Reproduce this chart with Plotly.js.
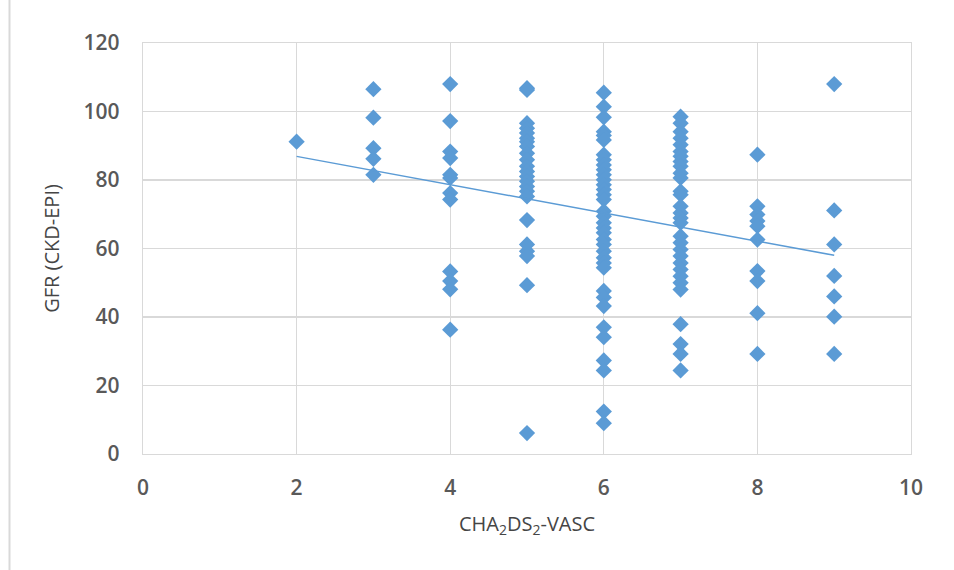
<!DOCTYPE html>
<html>
<head>
<meta charset="utf-8">
<script src="https://cdn.plot.ly/plotly-3.0.1.min.js"></script>
<style>
html,body{margin:0;padding:0;background:#fff;}
#chart{width:954px;height:570px;}
</style>
</head>
<body>
<div id="chart"></div>
<script>
// CHA2DS2-VASc score groups and the GFR values read for each
const scores = [2, 3, 4, 5, 6, 7, 8, 9];
const gfrScore2 = [91.2];
const gfrScore3 = [106.5, 98.2, 89.3, 86.2, 81.5];
const gfrScore4 = [108.0, 97.2, 88.3, 86.4, 81.5, 80.6, 76.2, 74.3, 53.3, 50.5, 48.1, 36.3];
const gfrScore5 = [106.8, 106.3, 96.6, 95.1, 93.7, 92.2, 91.2, 89.8, 87.8, 85.9, 84.0, 82.5, 81.0, 79.6, 78.1, 76.7, 75.2, 68.3, 61.2, 59.2, 57.8, 49.3, 6.1];
const gfrScore6 = [105.5, 101.4, 98.3, 94.1, 93.0, 91.7, 87.4, 85.9, 84.4, 83.0, 81.5, 80.1, 78.6, 77.2, 75.7, 74.3, 70.9, 69.4, 67.5, 66.0, 64.6, 62.6, 61.2, 59.2, 57.3, 55.8, 54.4, 47.6, 45.7, 43.2, 37.0, 34.1, 27.3, 24.4, 12.4, 9.0];
const gfrScore7 = [98.5, 96.6, 94.1, 92.2, 90.3, 88.3, 86.9, 85.4, 84.0, 82.0, 80.6, 76.7, 75.7, 72.3, 70.4, 68.9, 67.5, 63.6, 61.7, 59.7, 57.8, 55.8, 53.9, 51.9, 50.0, 48.0, 37.9, 32.1, 29.2, 24.4];
const gfrScore8 = [87.4, 72.3, 69.9, 68.0, 66.5, 62.6, 53.4, 50.5, 41.1, 29.2];
const gfrScore9 = [108.0, 71.1, 61.2, 52.0, 46.0, 40.1, 29.2];
// linear trendline end points
const trendScore = [2, 9];
const trendGfr = [86.9, 58.0];
const xTickVals = [0, 2, 4, 6, 8, 10];
const yTickVals = [0, 20, 40, 60, 80, 100, 120];

const groups = [gfrScore2, gfrScore3, gfrScore4, gfrScore5, gfrScore6, gfrScore7, gfrScore8, gfrScore9];
const xs = [], ys = [];
groups.forEach((g, i) => g.forEach(v => { xs.push(scores[i]); ys.push(v); }));

const blue = '#5B9BD5';
const grid = '#d9d9d9';
const fontFam = '"Open Sans", "Liberation Sans", sans-serif';

const data = [
  {x: xs, y: ys, type: 'scatter', mode: 'markers',
   marker: {symbol: 'diamond', size: 12.5, color: blue, line: {width: 0}}, hoverinfo: 'x+y'},
  {x: trendScore, y: trendGfr, type: 'scatter', mode: 'lines',
   line: {color: blue, width: 1.5}, hoverinfo: 'skip'}
];

const layout = {
  width: 954, height: 570,
  margin: {l: 143, r: 43, t: 43, b: 116},
  paper_bgcolor: '#ffffff', plot_bgcolor: '#ffffff',
  showlegend: false,
  font: {family: fontFam, color: '#595959'},
  xaxis: {
    range: [0, 10], tickvals: xTickVals, ticktext: xTickVals.map(String),
    showgrid: true, gridcolor: grid, gridwidth: 1.3,
    zeroline: false, showline: true, linecolor: grid, linewidth: 1.3, mirror: true,
    ticks: '', ticklabelstandoff: 14,
    tickfont: {size: 21, color: '#595959', family: fontFam, weight: 600},
    title: {text: 'CHA<sub>2</sub>DS<sub>2</sub>-VASC', font: {size: 20, color: '#454545', family: fontFam}, standoff: 17}
  },
  yaxis: {
    range: [0, 120], tickvals: yTickVals, ticktext: yTickVals.map(String),
    showgrid: true, gridcolor: grid, gridwidth: 1.3,
    zeroline: false, showline: true, linecolor: grid, linewidth: 1.3, mirror: true,
    ticks: '', ticklabelstandoff: 18,
    tickfont: {size: 21, color: '#595959', family: fontFam, weight: 600},
    title: {text: 'GFR (CKD-EPI)', font: {size: 20, color: '#454545', family: fontFam}, standoff: 18}
  },
  shapes: [
    {type: 'line', xref: 'paper', yref: 'paper',
     x0: (9.5 - 143) / 768, x1: (9.5 - 143) / 768, y0: -116 / 411, y1: 1 + 43 / 411,
     line: {color: '#d9d9d9', width: 2}}
  ]
};

Plotly.newPlot('chart', data, layout, {displayModeBar: false, staticPlot: true});
</script>
</body>
</html>
